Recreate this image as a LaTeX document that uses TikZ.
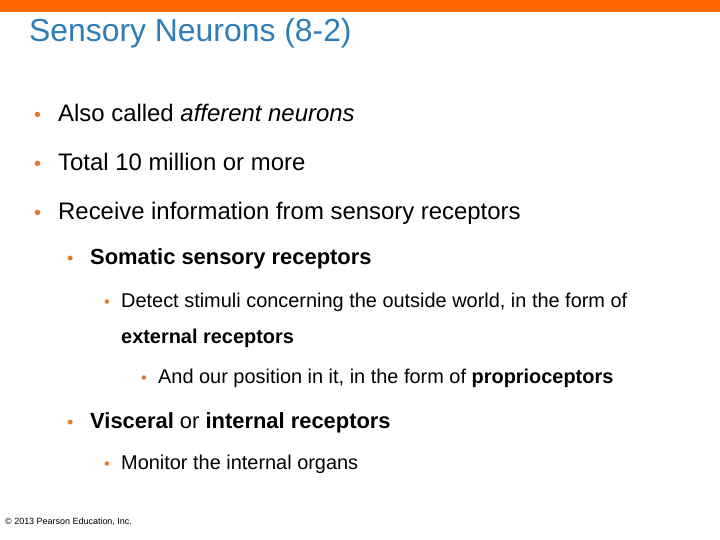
\documentclass[tikz,border=0pt]{standalone}
\usepackage{fontspec}
\setmainfont{Liberation Sans}
\usetikzlibrary{positioning}
\definecolor{SlideOrange}{HTML}{FF6600}
\definecolor{TitleBlue}{HTML}{2F7DB8}
\definecolor{BulletOrange}{HTML}{E8772E}

\begin{document}
\begin{tikzpicture}[
    x=1bp, y=-1bp,
    txt/.style={anchor=base west, inner sep=0pt},
    lvla/.style={txt, font=\fontsize{24}{28}\selectfont},
    lvlb/.style={txt, font=\fontsize{22}{26}\selectfont},
    lvlc/.style={txt, font=\fontsize{20}{24}\selectfont},
    dot/.style={txt, text=BulletOrange}
]
    \useasboundingbox (0,0) rectangle (720,540);
    % Top bar
    \fill[SlideOrange] (0,0) rectangle (720,12);

    % Title
    \node[txt, font=\fontsize{32}{36}\selectfont, text=TitleBlue] (title) at (29,42) {Sensory Neurons (8-2)};

    % First level
    \node[dot, font=\fontsize{20}{24}\selectfont] (b1) at (34,122) {•};
    \node[lvla] (also) at (58,122) {Also called \textit{afferent neurons}};
    \node[dot, font=\fontsize{20}{24}\selectfont] (b2) at (34,171) {•};
    \node[lvla] (total) at (58,171) {Total 10 million or more};
    \node[dot, font=\fontsize{20}{24}\selectfont] (b3) at (34,220) {•};
    \node[lvla] (receive) at (58,220) {Receive information from sensory receptors};

    % Second level
    \node[dot, font=\fontsize{18}{22}\selectfont] (b4) at (67,265) {•};
    \node[lvlb] (somatic) at (90,265) {\textbf{Somatic sensory receptors}};
    \node[dot, font=\fontsize{18}{22}\selectfont] (b7) at (67,428) {•};
    \node[lvlb] (visceral) at (90,428) {\textbf{Visceral} or \textbf{internal receptors}};

    % Third level
    \node[dot, font=\fontsize{16.5}{20}\selectfont] (b5) at (104,307) {•};
    \node[lvlc] (detect) at (121,307) {Detect stimuli concerning the outside world, in the form of};
    \node[lvlc] (external) at (121,343) {\textbf{external receptors}};
    \node[dot, font=\fontsize{16.5}{20}\selectfont] (b8) at (104,469) {•};
    \node[lvlc] (monitor) at (121,469) {Monitor the internal organs};

    % Fourth level
    \node[dot, font=\fontsize{16.5}{20}\selectfont] (b6) at (141,383) {•};
    \node[lvlc] (position) at (158,383) {And our position in it, in the form of \textbf{proprioceptors}};

    % Footer
    \node[txt, font=\fontsize{9}{10}\selectfont] (copy) at (5,524) {© 2013 Pearson Education, Inc.};
\end{tikzpicture}
\end{document}
